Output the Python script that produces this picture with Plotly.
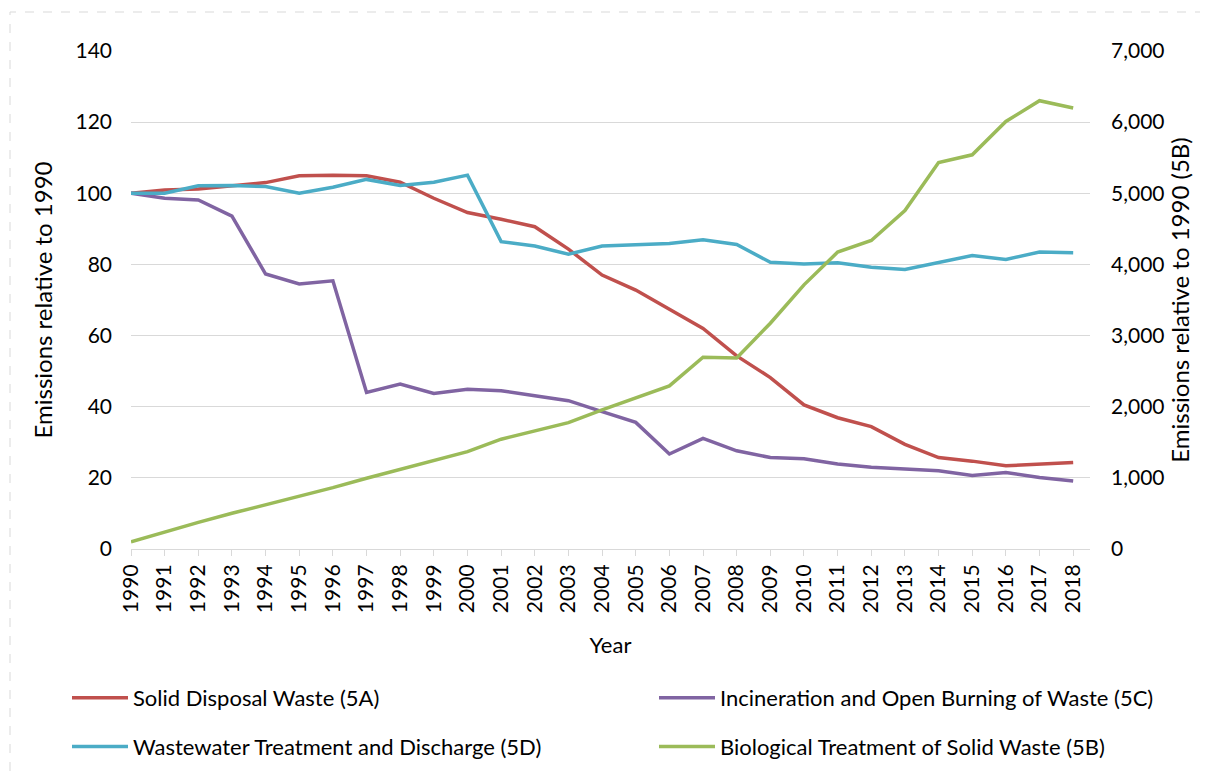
import plotly.graph_objects as go

years = list(range(1990, 2019))
solid_disposal_5a = [100, 100.9, 101.2, 102.1, 103.0, 104.9, 105.1, 104.9, 103.1, 98.6,
                     94.6, 92.7, 90.6, 84.3, 77.0, 72.8, 67.4, 62.0, 54.3, 48.2,
                     40.5, 36.9, 34.4, 29.4, 25.7, 24.7, 23.4, 23.8, 24.3]
incineration_5c = [100, 98.6, 98.1, 93.6, 77.3, 74.5, 75.4, 44.0, 46.4, 43.7,
                   44.9, 44.5, 43.1, 41.7, 38.6, 35.6, 26.7, 31.1, 27.6, 25.7,
                   25.4, 23.9, 23.0, 22.5, 22.0, 20.7, 21.5, 20.1, 19.1]
wastewater_5d = [100, 100, 102.1, 102.2, 101.9, 100, 101.7, 103.9, 102.2, 103.1,
                 105.1, 86.4, 85.2, 82.9, 85.2, 85.5, 85.9, 86.9, 85.6, 80.6,
                 80.1, 80.5, 79.2, 78.6, 80.5, 82.5, 81.4, 83.5, 83.3]
biological_5b = [100, 243, 375, 502, 619, 736, 862, 994, 1121, 1242,
                 1369, 1543, 1660, 1777, 1955, 2128, 2293, 2696, 2686, 3174,
                 3713, 4173, 4336, 4758, 5433, 5541, 6010, 6301, 6198]

names = ["Solid Disposal Waste (5A)", "Incineration and Open Burning of Waste (5C)",
         "Wastewater Treatment and Discharge (5D)", "Biological Treatment of Solid Waste (5B)"]
colors = ["#C0504D", "#8064A2", "#4BACC6", "#9BBB59"]
legend_ids = ["legend", "legend2", "legend", "legend2"]

FONT = "Lato"
fig = go.Figure()
series = [solid_disposal_5a, incineration_5c, wastewater_5d, biological_5b]
axes = ["y", "y", "y", "y2"]
for i, (s, n, c, a, lg) in enumerate(zip(series, names, colors, axes, legend_ids)):
    fig.add_trace(go.Scatter(x=years, y=s, name=n, mode="lines",
                             line=dict(color=c, width=3.5), yaxis=a,
                             legend=lg, legendgroup=f"g{i}"))

OFF = 8  # page body margin
W, H = 1208 - OFF, 771 - OFF
L, T = 131 - OFF, 51 - OFF
pw, ph = 959, 498
R = W - L - pw
B = H - T - ph

def px_x(sx):
    return (sx - OFF - L) / pw

def px_y(sy):
    return (T + ph - (sy - OFF)) / ph

leg_common = dict(orientation="v", xanchor="left", yanchor="top",
                  font=dict(family=FONT, size=22), tracegroupgap=17,
                  traceorder="grouped", itemwidth=56, bgcolor="rgba(0,0,0,0)")

fig.update_layout(
    width=W, height=H,
    margin=dict(l=L, r=R, t=T, b=B, autoexpand=False),
    paper_bgcolor="white", plot_bgcolor="white",
    font=dict(family=FONT, size=21, color="#000000"),
    showlegend=True,
    legend=dict(x=px_x(67), y=px_y(677), **leg_common),
    legend2=dict(x=px_x(654), y=px_y(677), **leg_common),
    xaxis=dict(range=[1990, 2018.5], tickmode="array", tickvals=years,
               ticktext=[str(y) for y in years], tickangle=-90,
               showgrid=False, showline=True, linecolor="#D9D9D9", linewidth=1,
               ticks="outside", ticklen=6, tickcolor="#D9D9D9",
               tickfont=dict(size=21), zeroline=False,
               title=dict(text="Year", font=dict(size=22), standoff=25)),
    yaxis=dict(range=[0, 140], tick0=0, dtick=20, showgrid=True,
               gridcolor="#D9D9D9", gridwidth=1, zeroline=False, showline=False,
               ticks="", ticklabelstandoff=18, tickfont=dict(size=21),
               title=dict(text="Emissions relative to 1990", font=dict(size=24),
                          standoff=16)),
    yaxis2=dict(range=[0, 7000], tick0=0, dtick=1000, overlaying="y", side="right",
                showgrid=False, zeroline=False, showline=False, ticks="",
                tickformat=",d", ticklabelstandoff=20, tickfont=dict(size=21),
                title=dict(text="Emissions relative to 1990 (5B)", font=dict(size=24),
                           standoff=0)),
)

fig.add_shape(type="rect", xref="paper", yref="paper",
              x0=px_x(10), x1=px_x(1230), y0=px_y(800), y1=px_y(12),
              line=dict(color="#D9D9D9", width=1, dash="dash"), layer="below")

fig.write_html("out.html")
